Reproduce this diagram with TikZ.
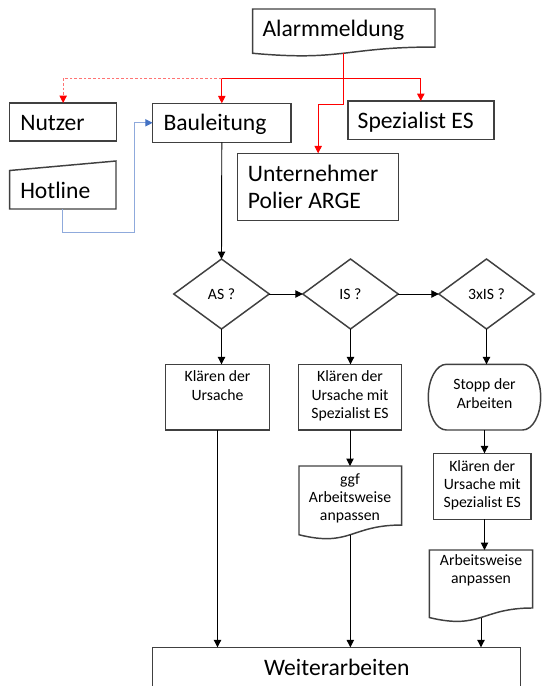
\documentclass[tikz,border=0pt]{standalone}
\usepackage{fontspec}
\setmainfont{Carlito}
\usetikzlibrary{arrows.meta,shapes.geometric,fit}
\definecolor{boxgray}{HTML}{404040}
\definecolor{lineblue}{HTML}{8FAADC}
\definecolor{tipblue}{HTML}{4472C4}
\definecolor{alarmred}{HTML}{FF0000}
\newcommand\docpath[4]{%
  \draw[boxline] (#1,#2) -- ({#1+#3},#2) -- ({#1+#3},{#2+0.802*#4})
    .. controls ({#1+0.5*#3},{#2+0.802*#4}) and ({#1+0.5*#3},{#2+1.1075*#4}) ..
    (#1,{#2+0.934*#4}) -- cycle;}
\tikzset{
  boxline/.style={draw=boxgray, line width=1.1pt},
  shapebox/.style={boxline, rectangle, inner sep=0pt, outer sep=0pt},
  anchorbox/.style={rectangle, inner sep=0pt, outer sep=0pt},
  decision/.style={diamond, boxline, inner sep=0pt, outer sep=0pt,
    minimum width=71.6pt, minimum height=52.5pt,
    font=\fontsize{11.8}{13.7}\selectfont},
  bigtext/.style={font=\fontsize{17.7}{20}\selectfont, inner sep=0pt, align=left},
  smalltext/.style={font=\fontsize{11.8}{13.7}\selectfont, inner sep=0pt, align=center},
  tip/.style={-{Triangle[length=5.5pt,width=5.5pt]}},
  flow/.style={draw=black, line width=0.7pt, tip},
  plainline/.style={draw=black, line width=0.7pt},
  redflow/.style={draw=alarmred, line width=0.7pt, tip},
  redplain/.style={draw=alarmred, line width=0.7pt},
  reddash/.style={draw=alarmred!55, line width=0.7pt, dash pattern=on 2pt off 1.5pt,
    -{Triangle[length=5.5pt,width=5.5pt,color=alarmred]}},
  blueflow/.style={draw=lineblue, line width=0.8pt,
    -{Triangle[length=5.5pt,width=5.5pt,color=tipblue]}},
}
\begin{document}
\begin{tikzpicture}[x=0.75pt,y=-0.75pt]
\useasboundingbox (0,0) rectangle (542,686);
\clip (0,0) rectangle (542,686);

% --- document shape: Alarmmeldung
\docpath{252.6}{9}{182.4}{47.4}
\node[anchorbox, fit={(252.6,9) (435,53.2)}] (alarm) {};
\node[bigtext, anchor=base west] (alarmtext) at (262.3,36.7) {Alarmmeldung};

% --- rectangles top
\node[shapebox, fit={(9.7,103) (116.6,141)}] (nutzer) {};
\node[bigtext, anchor=base west] (nutzertext) at (20,130) {Nutzer};
\node[shapebox, fit={(152.6,103.3) (291,142.3)}] (bau) {};
\node[bigtext, anchor=base west] (bautext) at (163.3,130.7) {Bauleitung};
\node[shapebox, fit={(347.8,101) (493.8,139.3)}] (spez) {};
\node[bigtext, anchor=base west] (speztext) at (357.4,128.3) {Spezialist ES};
\node[shapebox, fit={(237.7,153.3) (398.6,220.3)}] (unter) {};
\node[bigtext, anchor=base west] (untertext) at (247.7,208.3) {Unternehmer\\Polier ARGE};

% --- manual input: Hotline
\draw[boxline] (9.7,170.5) -- (116,161) -- (116,209) -- (9.7,209) -- cycle;
\node[anchorbox, fit={(9.7,161) (116,209)}] (hot) {};
\node[bigtext, anchor=base west] (hottext) at (20,198.3) {Hotline};

% --- decisions
\node[decision] (as) at (221.5,294) {AS ?};
\node[decision] (is) at (350.5,294) {IS ?};
\node[decision] (xis) at (486.5,294) {3xIS ?};

% --- process boxes
\node[shapebox, fit={(165.7,364.3) (269.3,430)}] (k1) {};
\node[smalltext, anchor=base] (k1text) at (217.5,400) {Klären der\\Ursache};
\node[shapebox, fit={(298.3,364.3) (401.7,430)}] (k2) {};
\node[smalltext, anchor=base] (k2text) at (350,418.3) {Klären der\\Ursache mit\\Spezialist ES};

% --- terminator: Stopp der Arbeiten
\draw[boxline] (446.4,364.3) -- (522.6,364.3)
  arc[start angle=-90, end angle=90, x radius=18.1, y radius=32.85]
  -- (446.4,430)
  arc[start angle=90, end angle=270, x radius=18.1, y radius=32.85] -- cycle;
\node[anchorbox, fit={(428.3,364.3) (540.7,430)}] (stopp) {};
\node[smalltext, anchor=base] (stopptext) at (484.5,408) {Stopp der\\Arbeiten};

% --- lower column boxes
\docpath{299}{466}{102.7}{73.6}
\node[anchorbox, fit={(299,466) (401.7,534.7)}] (doc2) {};
\node[smalltext, anchor=base] (doc2text) at (350,520.8) {ggf\\Arbeitsweise\\anpassen};

\node[shapebox, fit={(433.3,453.3) (531,519.3)}] (k3) {};
\node[smalltext, anchor=base] (k3text) at (482.2,507.8) {Klären der\\Ursache mit\\Spezialist ES};

\docpath{429.3}{550}{103.4}{72.3}
\node[anchorbox, fit={(429.3,550) (532.7,617.5)}] (doc3) {};
\node[smalltext, anchor=base] (doc3text) at (481,583.3) {Arbeitsweise\\anpassen};

\node[shapebox, fit={(152.7,647.3) (520.7,700)}] (weiter) {};
\node[bigtext, anchor=base] (weitertext) at (336.7,675) {Weiterarbeiten};

% --- red connectors from Alarmmeldung
\coordinate (split) at (343.8,78.3);
\coordinate (bend) at (343.8,104.3);
\draw[redplain] (alarm.south) -- (bend);
\draw[redflow] (bend) -| (unter.north);
\draw[redflow] (split) -| (bau.north);
\draw[redflow] (split) -| (spez.north);
\draw[reddash] (bau.north |- split) -| (nutzer.north);

% --- blue connector from Hotline
\coordinate (hb) at (134.3,232.3);
\draw[blueflow] (hot.south) |- (hb) |- (bau.west);

% --- black flow
\draw[flow] (bau.south) -- (as.north);
\draw[flow] (as.east) -- (is.west);
\draw[flow] (is.east) -- (xis.west);
\draw[flow] (as.south) -- (as.south |- k1.north);
\draw[flow] (is.south) -- (is.south |- k2.north);
\draw[flow] (xis.south) -- (xis.south |- stopp.north);
\draw[flow] (k2.south) -- (k2.south |- doc2.north);
\draw[flow] (stopp.south) -- (stopp.south |- k3.north);
\draw[flow] (stopp.south |- k3.south) -- (stopp.south |- doc3.north);
\draw[flow] (k1.south) -- (k1.south |- weiter.north);
\draw[flow] (doc2.south) -- (doc2.south |- weiter.north);
\draw[flow] (doc3.south) -- (doc3.south |- weiter.north);
\end{tikzpicture}
\end{document}
